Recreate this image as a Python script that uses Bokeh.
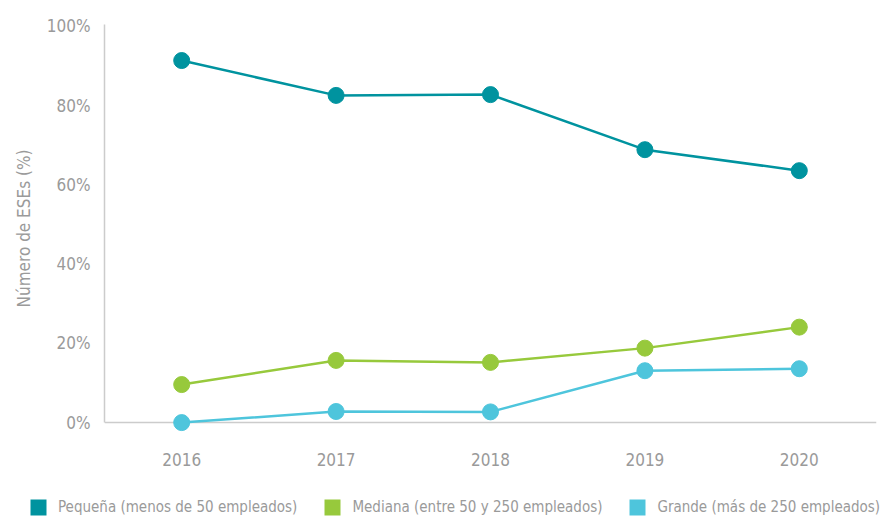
from bokeh.plotting import figure
from bokeh.models import Legend, LegendItem, FixedTicker, Range1d, CustomJSTickFormatter, Span
from bokeh.layouts import column
from bokeh.embed import file_html
from bokeh.resources import INLINE

years = ["2016", "2017", "2018", "2019", "2020"]
pequena = [91.4, 82.6, 82.8, 68.9, 63.6]
mediana = [9.6, 15.7, 15.2, 18.8, 24.1]
grande = [0.0, 2.8, 2.7, 13.1, 13.6]
labels = ["Pequeña (menos de 50 empleados)", "Mediana (entre 50 y 250 empleados)", "Grande (más de 250 empleados)"]
colors = ["#00939F", "#97C93C", "#4EC5DC"]
y_ticks = [0, 20, 40, 60, 80, 100]

FONT = "'DejaVu Sans Condensed', 'Liberation Sans Narrow', sans-serif"
GRAY = "#9a9a9a"

p = figure(width=885, height=485, x_range=years, y_range=Range1d(-2.5, 100.5),
           output_backend="svg", toolbar_location=None,
           min_border_left=104, min_border_right=9, min_border_top=24, min_border_bottom=53)
p.x_range.range_padding = 0
p.outline_line_color = None
p.xgrid.grid_line_color = None
p.ygrid.grid_line_color = None

# baseline at 0 (drawn under the markers)
p.add_layout(Span(location=0, dimension="width", line_color="#cccccc", line_width=1.5, level="underlay"))

for vals, col in zip([pequena, mediana, grande], colors):
    p.line(years, vals, line_color=col, line_width=2.5)
    p.scatter(years, vals, size=16, fill_color=col, line_color=col)

for ax in (p.xaxis, p.yaxis):
    ax.axis_line_color = "#cccccc"
    ax.axis_line_width = 1.5
    ax.major_tick_line_color = None
    ax.minor_tick_line_color = None
    ax.major_label_text_color = GRAY
    ax.major_label_text_font = FONT
    ax.major_label_text_font_size = "17px"

p.xaxis.axis_line_color = None
p.xaxis.major_label_standoff = 14
p.yaxis.bounds = (0, 100.5)
p.yaxis.ticker = FixedTicker(ticks=y_ticks)
p.yaxis.formatter = CustomJSTickFormatter(code="return tick.toFixed(0) + '%';")
p.yaxis.major_label_standoff = 8
p.yaxis.axis_label = "Número de ESEs (%)"
p.yaxis.axis_label_text_font = FONT
p.yaxis.axis_label_text_font_style = "normal"
p.yaxis.axis_label_text_font_size = "17px"
p.yaxis.axis_label_text_color = GRAY
p.yaxis.axis_label_standoff = 10

# legend strip
lg = figure(width=885, height=32, output_backend="svg", toolbar_location=None,
            x_axis_type=None, y_axis_type=None,
            min_border_left=0, min_border_right=0, min_border_top=0, min_border_bottom=0,
            x_range=Range1d(0, 1), y_range=Range1d(0, 1))
lg.frame_align = False
lg.outline_line_color = None
lg.xgrid.grid_line_color = None
lg.ygrid.grid_line_color = None
items = []
for lab, col in zip(labels, colors):
    q = lg.quad(left=[-10], right=[-9], top=[-9], bottom=[-10], fill_color=col, line_color=None)
    items.append(LegendItem(label=lab, renderers=[q]))
legend = Legend(items=items, orientation="horizontal", location=(28, 0),
                glyph_width=20, glyph_height=20, label_standoff=10, spacing=25,
                label_text_font=FONT, label_text_font_size="15px", label_text_color=GRAY,
                border_line_color=None, background_fill_alpha=0, padding=0, margin=0)
lg.add_layout(legend, "center")

layout = column(p, lg, spacing=0)
open("out.html", "w").write(file_html(layout, INLINE))
